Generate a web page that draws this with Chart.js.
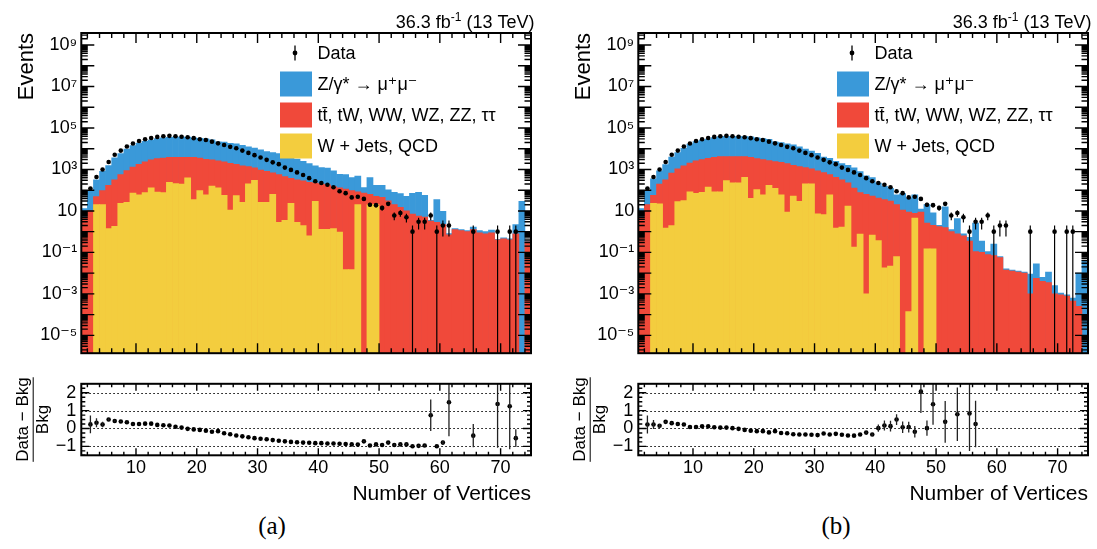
<!DOCTYPE html>
<html>
<head>
<meta charset="utf-8">
<script src="https://cdn.jsdelivr.net/npm/chart.js@4.4.1/dist/chart.umd.min.js"></script>
<style>
  body { margin: 0; background: #fff; }
  #page { position: relative; width: 1097px; height: 549px; overflow: hidden; background: #fff; }
  canvas { position: absolute; }
  .cap { position: absolute; top: 512px; width: 60px; text-align: center;
         font: 25px "Liberation Serif", "DejaVu Serif", serif; color: #000; }
</style>
</head>
<body>
<div id="page">
  <canvas id="mainA" width="540" height="368" style="left:0;top:0"></canvas>
  <canvas id="ratioA" width="540" height="140" style="left:0;top:368px"></canvas>
  <canvas id="mainB" width="540" height="368" style="left:557px;top:0"></canvas>
  <canvas id="ratioB" width="540" height="140" style="left:557px;top:368px"></canvas>
  <div class="cap" style="left:242px">(a)</div>
  <div class="cap" style="left:806px">(b)</div>
</div>
<script>
// bins of "Number of Vertices", width 1, from 1 to 75
const binCenters = [1.5, 2.5, 3.5, 4.5, 5.5, 6.5, 7.5, 8.5, 9.5, 10.5,
  11.5, 12.5, 13.5, 14.5, 15.5, 16.5, 17.5, 18.5, 19.5, 20.5,
  21.5, 22.5, 23.5, 24.5, 25.5, 26.5, 27.5, 28.5, 29.5, 30.5,
  31.5, 32.5, 33.5, 34.5, 35.5, 36.5, 37.5, 38.5, 39.5, 40.5,
  41.5, 42.5, 43.5, 44.5, 45.5, 46.5, 47.5, 48.5, 49.5, 50.5,
  51.5, 52.5, 53.5, 54.5, 55.5, 56.5, 57.5, 58.5, 59.5, 60.5,
  61.5, 62.5, 63.5, 64.5, 65.5, 66.5, 67.5, 68.5, 69.5, 70.5,
  71.5, 72.5, 73.5, 74.5];

// observed events (same in both panels)
const dataCounts = [null, 120, 430, 1000, 2300, 5100, 8100, 12900, 17800, 23400,
  28800, 33100, 37200, 39800, 41700, 39800, 38000, 35500, 32400, 28800,
  26300, 21900, 18200, 15100, 12300, 10500, 8100, 6300, 4900, 3800,
  2900, 2200, 1800, 1230, 950, 720, 540, 380, 270, 224,
  182, 138, 89, 72, 45, 48, 38, 20, 19, 14,
  22, 6, 8, 5, 1, 3, 3, 6, 1, 2,
  2, null, null, null, 1, null, null, null, 1, null,
  1, 1, null, null];

// panel (a): heights of the stacked layers (top of each layer)
const zllStackA = [13, 98, 320, 810, 1550, 3600, 5900, 9500, 14100, 18600,
  22900, 26300, 30900, 33900, 35500, 36300, 36300, 36300, 33900, 31600,
  30200, 26900, 21400, 20900, 18200, 17400, 14500, 12300, 10700, 8900,
  7200, 6500, 5800, 4400, 3800, 3200, 2500, 1900, 1480, 1230,
  1150, 870, 590, 560, 410, 480, 135, 410, 174, 174,
  105, 79, 69, 50, 71, 79, 56, 3.5, 35, 9.5,
  0.81, 1.4, 1.26, 1.12, 1.66, 1.12, 1.0, 1.2, 0.43, 0.5,
  0.45, 2.2, 29, 0.35];
const ttStackA = [5, 10, 49, 95, 170, 320, 560, 890, 1290, 1780,
  2340, 2880, 3310, 3550, 3800, 3800, 3800, 3800, 3800, 3550,
  3090, 2880, 2630, 2340, 1950, 1780, 1510, 1380, 1200, 930,
  810, 680, 560, 450, 370, 320, 280, 240, 220, 195,
  182, 151, 129, 112, 95, 83, 72, 63, 51, 45,
  31, 20, 15, 10, 7.1, 5.6, 5.0, 3.2, 2.8, 2.2,
  0.71, 1.26, 1.12, 1.0, 1.26, 0.89, 0.79, 0.89, 0.4, 0.45,
  0.4, 0.79, null, 0.32];
const wjetsStackA = [null, null, 20, 20, 1.4, 1.8, 23, 26, 72, 60,
  76, 129, 81, 76, 240, 209, 195, 400, 35, 95,
  59, 158, 129, 56, 11, 55, 26, 204, 302, 26,
  26, 63, 2.8, 3.5, 23, 2.8, 1.95, 0.63, 29, 1.3,
  1.3, 1.4, 0.95, 0.015, 0.015, 20, null, 20, 20, null,
  null, null, null, null, null, null, null, null, null, null,
  null, null, null, null, null, null, null, null, null, null,
  null, null, null, null];

// panel (b)
const zllStackB = [13, 98, 350, 870, 1700, 4000, 6500, 10500, 16600, 21900,
  25700, 29500, 34700, 38000, 39800, 38900, 38900, 38900, 37200, 33900,
  30900, 28200, 21400, 20000, 17000, 15500, 12300, 9500, 7600, 6000,
  4000, 3400, 2500, 1900, 1580, 1200, 790, 490, 410, 220,
  155, 123, 59, 68, 42, 59, 12.3, 20, 8.1, 2.0,
  15.8, 1.26, 4.3, 0.79, 0.54, 2.6, 0.35, 0.11, 0.25, 0.063,
  0.016, 0.014, 0.0126, 0.0112, 0.0089, 0.028, 0.0063, 0.0112, 0.0025, 0.0011,
  0.00089, 0.00063, 0.01, 0.04];
const ttStackB = [5, 20, 56, 195, 320, 660, 1070, 1510, 2040, 2630,
  3020, 3470, 3800, 4170, 4170, 4170, 4170, 4170, 3800, 3310,
  3020, 2690, 2400, 2190, 1900, 1580, 1380, 1230, 1070, 870,
  710, 560, 420, 320, 224, 126, 76, 63, 52, 42,
  35, 30, 20, 11, 8.9, 7.6, 8.9, 2.6, 2.0, 1.78,
  1.58, 1.0, 0.79, 0.63, 0.35, 0.11, 0.1, 0.079, 0.071, 0.056,
  0.014, 0.0126, 0.0112, 0.01, 0.001, 0.0056, 0.004, 0.0035, 0.001, 0.00089,
  0.00079, 0.00045, 0.00025, null];
const wjetsStackB = [null, null, 23, 22, 1.5, 1.95, 28, 32, 83, 71,
  78, 141, 83, 83, 288, 224, 224, 417, 40, 107,
  60, 170, 123, 59, 8.9, 52, 29, 204, 204, 7.2,
  6.6, 59, 1.5, 1.66, 17, 0.18, 0.76, 0.001, 0.68, 0.37,
  0.018, 0.022, 0.063, null, 0.00014, 4.5, null, 0.15, 0.15, null,
  null, null, null, null, null, null, null, null, null, null,
  null, null, null, null, null, null, null, null, null, null,
  null, null, null, null];

// (Data - Bkg) / Bkg and its error
const ratioA = [null, 0.23, 0.32, 0.22, 0.5, 0.42, 0.39, 0.35, 0.25, 0.25,
  0.27, 0.27, 0.2, 0.18, 0.17, 0.1, 0.05, -0.02, -0.05, -0.08,
  -0.12, -0.18, -0.15, -0.27, -0.32, -0.39, -0.44, -0.49, -0.54, -0.57,
  -0.6, -0.65, -0.69, -0.72, -0.75, -0.77, -0.79, -0.8, -0.82, -0.82,
  -0.84, -0.84, -0.85, -0.87, -0.89, -0.9, -0.72, -0.95, -0.89, -0.92,
  -0.79, -0.92, -0.89, -0.89, -0.99, -0.97, -0.95, 0.74, -0.99, -0.79,
  1.47, null, null, null, -0.4, null, null, null, 1.37, null,
  1.24, -0.54, null, null];
const ratioErrA = [null, 0.5, 0.25, 0.15, 0.06, 0.04, 0.03, 0.02, 0.02, 0.02,
  0, 0, 0, 0, 0, 0, 0, 0, 0, 0,
  0, 0, 0, 0, 0, 0, 0, 0, 0, 0,
  0, 0, 0, 0, 0, 0, 0, 0, 0, 0,
  0, 0, 0, 0, 0.02, 0.02, 0.03, 0.01, 0.02, 0.02,
  0.04, 0.04, 0.04, 0.05, 0.02, 0.04, 0.04, 0.88, 0.02, 0.12,
  1.9, null, null, null, 0.65, null, null, null, 2.45, null,
  2.4, 0.5, null, null];
const ratioB = [null, 0.22, 0.22, 0.15, 0.37, 0.3, 0.25, 0.22, 0.08, 0.08,
  0.12, 0.12, 0.07, 0.05, 0.05, 0.02, -0.02, -0.08, -0.12, -0.15,
  -0.15, -0.22, -0.15, -0.25, -0.27, -0.32, -0.34, -0.34, -0.35, -0.37,
  -0.28, -0.34, -0.3, -0.35, -0.39, -0.4, -0.34, -0.23, -0.34, 0.02,
  0.17, 0.13, 0.5, 0.07, 0.08, -0.18, 2.06, 0.02, 1.36, null,
  0.37, null, 0.8, null, 0.84, 0.25, null, null, null, null,
  null, null, null, null, null, null, null, null, null, null,
  null, null, null, null];
const ratioErrB = [null, 0.5, 0.25, 0.1, 0.05, 0.03, 0.02, 0.02, 0.02, 0.02,
  0, 0, 0, 0, 0, 0, 0, 0, 0, 0,
  0, 0, 0, 0, 0, 0, 0, 0, 0, 0,
  0, 0, 0, 0, 0, 0, 0, 0.05, 0.06, 0.2,
  0.28, 0.3, 0.3, 0.32, 0.3, 0.32, 1.2, 0.42, 1.15, null,
  1.17, null, 1.5, null, 2.1, 1.3, null, null, null, null,
  null, null, null, null, null, null, null, null, null, null,
  null, null, null, null];

const xTickValues = [10, 20, 30, 40, 50, 60, 70];
const yTickValues = [1e-5, 1e-3, 1e-1, 1e1, 1e3, 1e5, 1e7, 1e9];
const yTickLabels = ['10⁻⁵', '10⁻³', '10⁻¹', '10', '10³', '10⁵', '10⁷', '10⁹'];
const ratioTickValues = [-1, 0, 1, 2];
const ratioTickLabels = ['−1', '0', '1', '2'];
const seriesNames = ['Data', 'Z/γ* → μ⁺μ⁻', 'tt̄, tW, WW, WZ, ZZ, ττ', 'W + Jets, QCD'];
const lumiText = ['36.3 fb', '-1', ' (13 TeV)'];

const colZll = '#3a99d9';
const colTt = '#f0493a';
const colWjets = '#f3cd3e';

const FONT = '"Liberation Sans", "DejaVu Sans", Arial, sans-serif';
Chart.defaults.font.family = FONT;
Chart.defaults.color = '#000';

const pts = arr => binCenters.map((x, i) => ({x: x, y: arr[i]}));

// vertical error bars, poisson for counts unless errors are given
function makeErrorBars(values, errors, color, width) {
  return {
    id: 'errorBars',
    afterDatasetsDraw(chart) {
      const {ctx, chartArea: a, scales: {x, y}} = chart;
      ctx.save();
      ctx.beginPath();
      ctx.rect(a.left, a.top, a.width, a.height);
      ctx.clip();
      ctx.strokeStyle = color;
      ctx.lineWidth = width;
      ctx.beginPath();
      values.forEach((v, i) => {
        if (v === null) return;
        const e = errors ? errors[i] : Math.sqrt(v);
        if (!e) return;
        const px = x.getPixelForValue(binCenters[i]);
        const top = y.getPixelForValue(v + e);
        const bot = (!errors && v - e <= y.min) ? a.bottom : y.getPixelForValue(v - e);
        ctx.moveTo(px, top);
        ctx.lineTo(px, bot);
      });
      ctx.stroke();
      ctx.restore();
    }
  };
}

// ROOT-like frame with ticks pointing inside
function makeFrame(xMajor, xMinor, yTicks, gridValues) {
  return {
    id: 'frame',
    beforeDatasetsDraw(chart) {
      if (!gridValues) return;
      const {ctx, chartArea: a, scales: {y}} = chart;
      ctx.save();
      ctx.strokeStyle = '#000';
      ctx.lineWidth = 1.2;
      ctx.setLineDash([1.5, 2.5]);
      ctx.beginPath();
      gridValues.forEach(v => {
        const py = Math.round(y.getPixelForValue(v)) + 0.5;
        ctx.moveTo(a.left, py);
        ctx.lineTo(a.right, py);
      });
      ctx.stroke();
      ctx.restore();
    },
    afterDraw(chart) {
      const {ctx, chartArea: a, scales: {x, y}} = chart;
      ctx.save();
      ctx.strokeStyle = '#000';
      ctx.lineWidth = 1.4;
      ctx.beginPath();
      for (let v = 2; v < 75; v += 2) {
        const len = v % 10 === 0 ? xMajor : xMinor;
        const px = x.getPixelForValue(v);
        ctx.moveTo(px, a.bottom); ctx.lineTo(px, a.bottom - len);
        ctx.moveTo(px, a.top); ctx.lineTo(px, a.top + len);
      }
      yTicks.forEach(t => {
        const py = y.getPixelForValue(t[0]);
        if (py < a.top || py > a.bottom) return;
        ctx.moveTo(a.left, py); ctx.lineTo(a.left + t[1], py);
        ctx.moveTo(a.right, py); ctx.lineTo(a.right - t[1], py);
      });
      ctx.stroke();
      ctx.lineWidth = 2;
      ctx.strokeRect(a.left, a.top, a.width, a.height);
      ctx.restore();
    }
  };
}

const logTicks = [];
for (let e = -6; e <= 9; e++) {
  for (let k = 1; k <= 9; k++) logTicks.push([k * Math.pow(10, e), k === 1 ? 13 : 6.5]);
}
const ratioTicks = [];
for (let v = -1.5; v <= 2.5; v += 0.25) {
  ratioTicks.push([v, Number.isInteger(v) ? 8 : 4]);
}

const legendBox = {
  id: 'legendBox',
  afterDraw(chart) {
    const {ctx, chartArea: a} = chart;
    const x0 = a.left + 198.7;
    ctx.save();
    ctx.font = '18px ' + FONT;
    ctx.textBaseline = 'middle';
    ctx.textAlign = 'left';
    chart.data.datasets.forEach((ds, i) => {
      const cy = a.top + 20 + i * 31;
      if (ds.type === 'line') {
        ctx.strokeStyle = '#000';
        ctx.lineWidth = 1.3;
        ctx.beginPath();
        ctx.moveTo(x0 + 15, cy - 7.5);
        ctx.lineTo(x0 + 15, cy + 7.5);
        ctx.stroke();
        ctx.fillStyle = '#000';
        ctx.beginPath();
        ctx.arc(x0 + 15, cy, 2.4, 0, Math.PI * 2);
        ctx.fill();
      } else {
        ctx.fillStyle = ds.backgroundColor;
        ctx.fillRect(x0, cy - 12.5, 32, 25);
      }
      ctx.fillStyle = '#000';
      ctx.fillText(ds.label, x0 + 37.5, cy + 1);
    });
    ctx.restore();
  }
};

const lumiLabel = {
  id: 'lumiLabel',
  afterDraw(chart) {
    const {ctx, chartArea: a} = chart;
    const big = '18px ' + FONT, small = '12px ' + FONT;
    ctx.save();
    ctx.fillStyle = '#000';
    ctx.textBaseline = 'alphabetic';
    ctx.textAlign = 'left';
    ctx.font = big;
    const w1 = ctx.measureText(lumiText[0]).width;
    const w3 = ctx.measureText(lumiText[2]).width;
    ctx.font = small;
    const w2 = ctx.measureText(lumiText[1]).width;
    let x = a.right + 3.5 - (w1 + w2 + w3);
    const yb = 27.5;
    ctx.font = big; ctx.fillText(lumiText[0], x, yb); x += w1;
    ctx.font = small; ctx.fillText(lumiText[1], x, yb - 7); x += w2;
    ctx.font = big; ctx.fillText(lumiText[2], x, yb);
    ctx.restore();
  }
};

const fractionBar = {
  id: 'fractionBar',
  afterDraw(chart) {
    const {ctx, chartArea: a, scales: {y}} = chart;
    ctx.save();
    ctx.font = '17px ' + FONT;
    const w = ctx.measureText('Data − Bkg').width;
    const xb = y.left + 12.8 + 20.4;
    const yc = (a.top + a.bottom) / 2;
    ctx.strokeStyle = '#000';
    ctx.lineWidth = 1;
    ctx.beginPath();
    ctx.moveTo(xb, yc - w / 2);
    ctx.lineTo(xb, yc + w / 2);
    ctx.stroke();
    ctx.restore();
  }
};

function mainChart(id, zll, tt, wj) {
  return new Chart(document.getElementById(id), {
    type: 'bar',
    data: {
      datasets: [
        {type: 'line', label: seriesNames[0], data: pts(dataCounts), showLine: false,
         pointRadius: 2.3, pointBackgroundColor: '#000', pointBorderWidth: 0, order: 0},
        {label: seriesNames[1], data: pts(zll), backgroundColor: colZll, order: 3},
        {label: seriesNames[2], data: pts(tt), backgroundColor: colTt, order: 2},
        {label: seriesNames[3], data: pts(wj), backgroundColor: colWjets, order: 1}
      ]
    },
    options: {
      responsive: false,
      animation: false,
      events: [],
      layout: {padding: {top: 33, right: 9, bottom: 0.3, left: 0}},
      datasets: {bar: {grouped: false, barPercentage: 1, categoryPercentage: 1, borderWidth: 0}},
      plugins: {legend: {display: false}, tooltip: {enabled: false}},
      scales: {
        x: {
          type: 'linear', display: false, min: 1, max: 75, offset: false, bounds: 'data',
          afterBuildTicks: s => { s.ticks = xTickValues.map(v => ({value: v})); }
        },
        y: {
          type: 'logarithmic', min: Math.pow(10, -5.86), max: Math.pow(10, 9.58), bounds: 'data',
          afterBuildTicks: s => { s.ticks = yTickValues.map(v => ({value: v})); },
          afterFit: s => { s.width = 81.3; },
          grid: {display: false, drawTicks: false},
          border: {display: false},
          ticks: {autoSkip: false, padding: 4, font: {size: 18}, callback: (v, i) => yTickLabels[i]},
          title: {display: true, text: 'Events', align: 'end', font: {size: 22}, padding: {top: 14, bottom: 0}}
        }
      }
    },
    plugins: [makeErrorBars(dataCounts, null, '#000', 1.2), makeFrame(10, 5, logTicks, null), legendBox, lumiLabel]
  });
}

function ratioChart(id, vals, errs) {
  return new Chart(document.getElementById(id), {
    type: 'scatter',
    data: {
      datasets: [
        {label: '(Data − Bkg) / Bkg', data: pts(vals), pointRadius: 2.3,
         pointBackgroundColor: '#000', pointBorderWidth: 0}
      ]
    },
    options: {
      responsive: false,
      animation: false,
      events: [],
      layout: {padding: {top: 7.3, right: 9, bottom: 0, left: 0}},
      plugins: {legend: {display: false}, tooltip: {enabled: false}},
      scales: {
        x: {
          type: 'linear', min: 1, max: 75, bounds: 'data',
          afterBuildTicks: s => { s.ticks = xTickValues.map(v => ({value: v})); },
          afterFit: s => { s.height = 52.7; },
          grid: {display: false, drawTicks: false},
          border: {display: false},
          ticks: {autoSkip: false, maxRotation: 0, padding: 2, font: {size: 18}},
          title: {display: true, text: 'Number of Vertices', align: 'end', font: {size: 21}, padding: {top: 0, bottom: 1.5}}
        },
        y: {
          type: 'linear', min: -1.5, max: 2.5, bounds: 'data',
          afterBuildTicks: s => { s.ticks = ratioTickValues.map(v => ({value: v})); },
          afterFit: s => { s.width = 81.3; },
          grid: {display: false, drawTicks: false},
          border: {display: false},
          ticks: {autoSkip: false, padding: 5, font: {size: 18}, callback: (v, i) => ratioTickLabels[i]},
          title: {display: true, text: ['Data − Bkg', 'Bkg'], align: 'center', font: {size: 17}, padding: {top: 12.8, bottom: 0}}
        }
      }
    },
    plugins: [makeErrorBars(vals, errs, '#222', 1.3), makeFrame(7, 3.5, ratioTicks, ratioTickValues), fractionBar]
  });
}

mainChart('mainA', zllStackA, ttStackA, wjetsStackA);
ratioChart('ratioA', ratioA, ratioErrA);
mainChart('mainB', zllStackB, ttStackB, wjetsStackB);
ratioChart('ratioB', ratioB, ratioErrB);
</script>
</body>
</html>
